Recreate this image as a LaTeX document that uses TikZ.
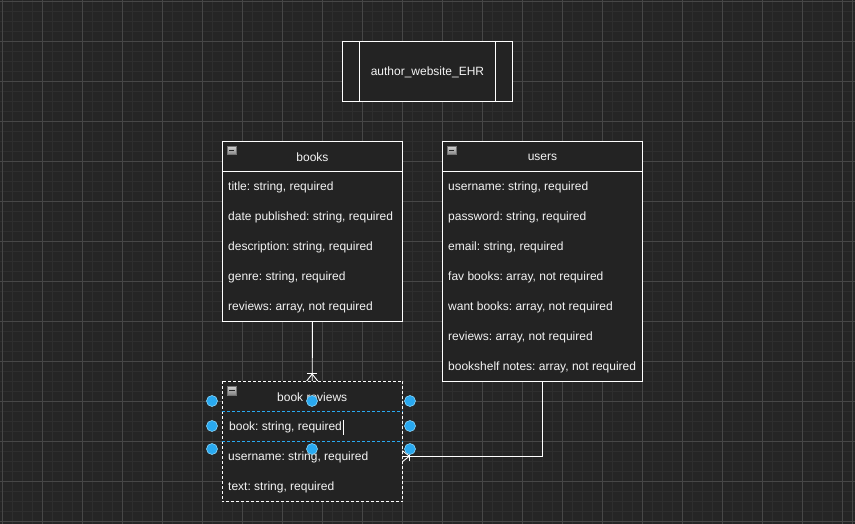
\documentclass[tikz,border=0pt]{standalone}
\usepackage{fontspec}
\setmainfont{Liberation Sans}
\usetikzlibrary{calc}
\frenchspacing
\definecolor{bg}{HTML}{252525}
\definecolor{gminor}{HTML}{2E2E2E}
\definecolor{gmajor}{HTML}{474747}
\definecolor{boxfill}{HTML}{232323}
\definecolor{txt}{HTML}{F4F4F4}
\definecolor{selblue}{HTML}{29A9F0}
\definecolor{selring}{HTML}{86D2F7}
\begin{document}
\begin{tikzpicture}[x=1pt,y=-1pt,
  every node/.style={font=\fontsize{12}{14}\selectfont\frenchspacing, text=txt},
  tbl/.style={draw=white, line width=0.9pt, fill=boxfill, anchor=north west, inner sep=0pt},
  hdr/.style={draw=white, line width=0.9pt, anchor=north west, inner sep=0pt, minimum height=30pt},
  row/.style={anchor=west, inner sep=0pt, yshift=-1pt},
  lbl/.style={yshift=-1pt},
  icon/.style={draw=black!55, line width=0.5pt, top color=black!18, bottom color=black!48, minimum size=8.5pt, inner sep=0pt},
  minus/.style={draw=black!85, line width=1.2pt},
  conn/.style={draw=white, line width=0.9pt},
  handle/.style={circle, fill=selblue, draw=selring, line width=0.6pt, minimum size=11pt, inner sep=0pt},
  seldash/.style={draw=selblue, line width=0.8pt, dash pattern=on 3pt off 2pt}
]
\useasboundingbox (0,0) rectangle (855,524);
\fill[bg] (0,0) rectangle (855,524);
% grid
\foreach \x in {2,12,...,852} \draw[gminor, line width=0.8pt] (\x,0) -- (\x,524);
\foreach \y in {1,11,...,521} \draw[gminor, line width=0.8pt] (0,\y) -- (855,\y);
\foreach \x in {2,42,...,842} \draw[gmajor, line width=0.8pt] (\x,0) -- (\x,524);
\foreach \y in {1,41,...,521} \draw[gmajor, line width=0.8pt] (0,\y) -- (855,\y);
\draw[gmajor, line width=1pt] (852,0) -- (852,524);

% title
\node[tbl, minimum width=170pt, minimum height=60pt] (title) at (342,41) {};
\node[lbl] at (title.center) {author\_website\_EHR};
\draw[conn] ($(title.north west)+(17,0)$) -- ($(title.south west)+(17,0)$);
\draw[conn] ($(title.north east)+(-17,0)$) -- ($(title.south east)+(-17,0)$);

% books
\node[tbl, minimum width=180pt, minimum height=180pt] (books) at (222,141) {};
\node[hdr, minimum width=180pt] (booksh) at (222,141) {};
\node[lbl] at (booksh.center) {books};
\node[icon] (booksi) at (231.5,150.5) {};
\draw[minus] ($(booksi.west)+(1.8,0)$) -- ($(booksi.east)+(-1.8,0)$);
\node[row] (b1) at (228,186) {title: string, required};
\node[row] (b2) at (228,216) {date published: string, required};
\node[row] (b3) at (228,246) {description: string, required};
\node[row] (b4) at (228,276) {genre: string, required};
\node[row] (b5) at (228,306) {reviews: array, not required};

% users
\node[tbl, minimum width=200pt, minimum height=240pt] (users) at (442,141) {};
\node[hdr, minimum width=200pt] (usersh) at (442,141) {};
\node[lbl] at (usersh.center) {users};
\node[icon] (usersi) at (451.5,150.5) {};
\draw[minus] ($(usersi.west)+(1.8,0)$) -- ($(usersi.east)+(-1.8,0)$);
\node[row] (u1) at (448,186) {username: string, required};
\node[row] (u2) at (448,216) {password: string, required};
\node[row] (u3) at (448,246) {email: string, required};
\node[row] (u4) at (448,276) {fav books: array, not required};
\node[row] (u5) at (448,306) {want books: array, not required};
\node[row] (u6) at (448,336) {reviews: array, not required};
\node[row] (u7) at (448,366) {bookshelf notes: array, not required};

% book reviews (selected)
\node[tbl, draw=none, minimum width=180pt, minimum height=120pt] (rv) at (222,381) {};
\draw[white, line width=0.9pt, dash pattern=on 3pt off 2pt] (rv.north west) rectangle (rv.south east);
\node[inner sep=0pt, anchor=north west, minimum width=180pt, minimum height=30pt] (rvh) at (222,381) {};
\node[lbl] at (rvh.center) {book reviews};
\node[icon] (rvi) at (231.8,390.5) {};
\draw[minus] ($(rvi.west)+(1.8,0)$) -- ($(rvi.east)+(-1.8,0)$);
\node[inner sep=0pt, anchor=north west, minimum width=180pt, minimum height=30pt] (rvb) at (222,411) {};
\node[row] (r1) at (229,426) {book: string, required};
\node[inner sep=0pt, anchor=north west, minimum width=180pt, minimum height=30pt] (rvu) at (222,441) {};
\node[row] (r2) at (228,456) {username: string, required};
\node[row] (r3) at (228,486) {text: string, required};
\draw[seldash] (rvb.north west) -- (rvb.north east);
\draw[seldash] (rvb.south west) -- (rvb.south east);
\draw[white, line width=0.7pt] ($(r1.east)+(1.5,-7.5)$) -- ($(r1.east)+(1.5,7.5)$);

% connectors
\draw[conn] (books.south) -- (rvh.north);
\draw[conn] ($(rvh.north)+(0,-7)$) -- ($(rvh.north)+(-5.5,0)$);
\draw[conn] ($(rvh.north)+(0,-7)$) -- ($(rvh.north)+(5.5,0)$);
\draw[conn] ($(rvh.north)+(-5,-7.5)$) -- ($(rvh.north)+(5,-7.5)$);

\draw[conn] (users.south) |- (rvu.east);
\draw[conn] ($(rvu.east)+(7,0)$) -- ($(rvu.east)+(0,-5.5)$);
\draw[conn] ($(rvu.east)+(7,0)$) -- ($(rvu.east)+(0,5.5)$);
\draw[conn] ($(rvu.east)+(7.5,-5)$) -- ($(rvu.east)+(7.5,5)$);

% selection handles
\node[handle] (h1) at (212,401) {};
\node[handle] (h2) at (312,401) {};
\node[handle] (h3) at (410,401) {};
\node[handle] (h4) at (212,426) {};
\node[handle] (h5) at (410,426) {};
\node[handle] (h6) at (212,449) {};
\node[handle] (h7) at (312,449) {};
\node[handle] (h8) at (410,449) {};
\end{tikzpicture}
\end{document}
